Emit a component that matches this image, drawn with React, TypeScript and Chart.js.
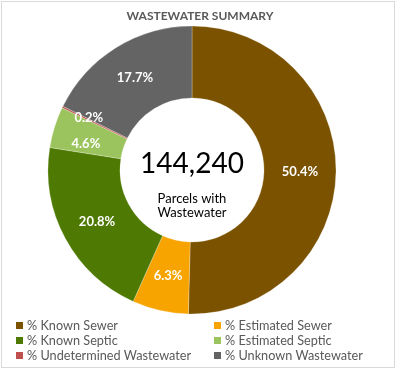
import React, { useEffect, useRef } from 'react';
import { Chart, registerables } from 'chart.js';

Chart.register(...registerables);

const categories = [
  '% Known Sewer',
  '% Estimated Sewer',
  '% Known Septic',
  '% Estimated Septic',
  '% Undetermined Wastewater',
  '% Unknown Wastewater',
];
const values = [50.4, 6.3, 20.8, 4.6, 0.2, 17.7];
const colors = ['#7B5200', '#F7A400', '#4E7A03', '#9CC45E', '#C0504D', '#646464'];
const titleText = 'WASTEWATER SUMMARY';
const totalParcels = '144,240';
const centerCaption = ['Parcels with', 'Wastewater'];

const FONT = "Lato, 'Open Sans', 'DejaVu Sans', sans-serif";
const LABEL_SIZE = 13;

const decor = {
  id: 'decor',
  beforeDraw(chart: any) {
    const ctx = chart.ctx;
    ctx.save();
    ctx.fillStyle = '#ffffff';
    ctx.fillRect(0, 0, chart.width, chart.height);
    ctx.strokeStyle = '#D9D9D9';
    ctx.lineWidth = 1;
    ctx.strokeRect(1.5, 1.5, 393, 366);
    ctx.restore();
  },
  afterDatasetsDraw(chart: any) {
    const ctx = chart.ctx;
    const meta = chart.getDatasetMeta(0);
    ctx.save();
    ctx.fillStyle = '#ffffff';
    ctx.font = `bold ${LABEL_SIZE}px ${FONT}`;
    ctx.textAlign = 'center';
    ctx.textBaseline = 'middle';
    const pts = meta.data.map((arc: any) => {
      const p = arc.tooltipPosition(false);
      return { x: p.x, y: p.y };
    });
    // spread neighbouring labels that would collide
    const minGap = LABEL_SIZE * 2;
    for (let i = 0; i < pts.length; i++) {
      const j = (i + 1) % pts.length;
      const a = pts[i];
      const b = pts[j];
      if (Math.abs(a.x - b.x) < 40 && Math.abs(a.y - b.y) < minGap) {
        const need = (minGap - Math.abs(a.y - b.y)) / 2;
        const sign = a.y < b.y ? -1 : 1;
        a.y += sign * need;
        b.y -= sign * need;
        a.x -= 3;
        b.x -= 6;
      }
    }
    pts.forEach((p: any, i: number) => {
      ctx.fillText(values[i].toFixed(1) + '%', p.x, p.y);
    });
    const c = meta.data[0];
    ctx.fillStyle = '#000000';
    ctx.textBaseline = 'alphabetic';
    ctx.font = `28px ${FONT}`;
    ctx.fillText(totalParcels, c.x, c.y + 3);
    ctx.font = `13px ${FONT}`;
    ctx.fillText(centerCaption[0], c.x, c.y + 33);
    ctx.fillText(centerCaption[1], c.x, c.y + 47);
    ctx.restore();
  },
  afterDraw(chart: any) {
    const ctx = chart.ctx;
    ctx.save();
    ctx.fillStyle = '#595959';
    ctx.font = `bold 12px ${FONT}`;
    ctx.textAlign = 'center';
    ctx.textBaseline = 'alphabetic';
    ctx.fillText(titleText, 200, 20);
    ctx.font = `12.7px ${FONT}`;
    ctx.textAlign = 'left';
    categories.forEach((label, i) => {
      const col = i % 2;
      const row = Math.floor(i / 2);
      const bx = col === 0 ? 16 : 214;
      const by = 322 + row * 15;
      ctx.fillStyle = colors[i];
      ctx.fillRect(bx, by, 7, 7);
      ctx.fillStyle = '#595959';
      ctx.fillText(label, bx + 11, by + 7.5);
    });
    ctx.restore();
  },
};

export default function App() {
  const ref = useRef<HTMLCanvasElement>(null);
  useEffect(() => {
    if (!ref.current) return;
    const chart = new Chart(ref.current, {
      type: 'doughnut',
      data: {
        labels: categories,
        datasets: [
          {
            data: values,
            backgroundColor: colors,
            borderColor: 'rgba(255,255,255,0.5)',
            borderWidth: 0.5,
          },
        ],
      },
      options: {
        animation: false,
        responsive: false,
        cutout: '50%',
        radius: 144,
        layout: { padding: { left: 48, right: 64, top: 26, bottom: 55 } },
        plugins: {
          legend: { display: false },
          title: { display: false },
          tooltip: { enabled: false },
        },
      },
      plugins: [decor],
    });
    return () => chart.destroy();
  }, []);
  return (
    <div style={{ position: 'absolute', left: 0, top: 0, width: 400, height: 369 }}>
      <canvas ref={ref} width={400} height={369} />
    </div>
  );
}
